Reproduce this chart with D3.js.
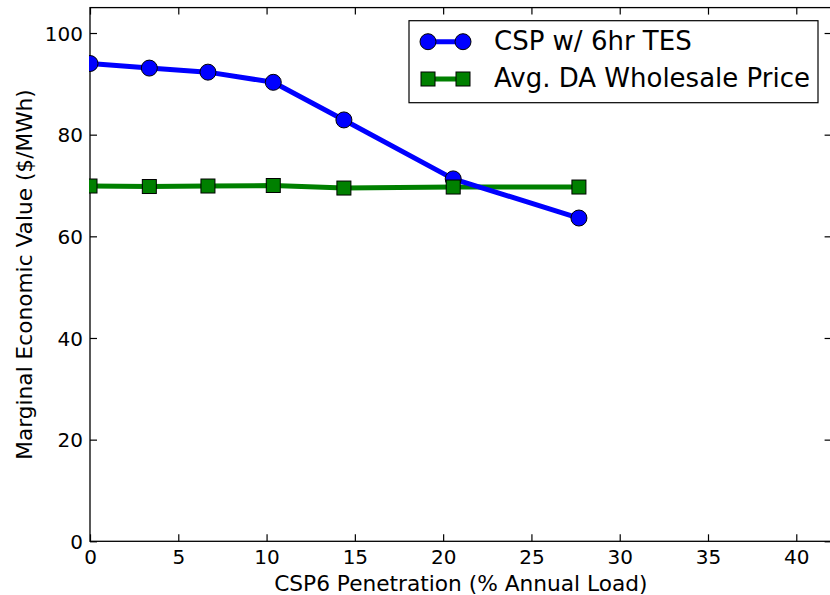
<!DOCTYPE html>
<html>
<head>
<meta charset="utf-8">
<script src="https://cdn.jsdelivr.net/npm/d3@7/dist/d3.min.js"></script>
<style>
  html, body { margin: 0; padding: 0; background: #ffffff; }
  svg { display: block; font-family: "DejaVu Sans", sans-serif; }
</style>
</head>
<body>
<svg id="chart" width="830" height="595"></svg>
<script>
// ---- data ----
const penetration = [0, 3.36, 6.68, 10.38, 14.38, 20.57, 27.69];
const cspValue    = [94.0, 93.1, 92.3, 90.3, 82.9, 71.3, 63.6];
const daPrice     = [69.9, 69.8, 69.9, 70.0, 69.5, 69.7, 69.7];
const seriesNames = ["CSP w/ 6hr TES", "Avg. DA Wholesale Price"];
const xTicks = [0, 5, 10, 15, 20, 25, 30, 35, 40];
const yTicks = [0, 20, 40, 60, 80, 100];
const xLabel = "CSP6 Penetration (% Annual Load)";
const yLabel = "Marginal Economic Value ($/MWh)";

(function () {
// ---- layout ----
const svg = d3.select("#chart");
const pL = 90, pR = 831.6, pT = 7.6, pB = 541.3;
const x = d3.scaleLinear().domain([0, 42]).range([pL, pR]);
const y = d3.scaleLinear().domain([0, 105]).range([pB, pT]);

const blue = "#0000ff", green = "#008000";

svg.append("defs").append("clipPath").attr("id", "clip")
  .append("rect").attr("x", pL - 1).attr("y", pT).attr("width", pR - pL + 1).attr("height", pB - pT);

// ---- axes (ticks inward on all sides) ----
const tickLen = 7;
const axB = svg.append("g").attr("transform", `translate(0,${pB})`)
  .call(d3.axisBottom(x).tickValues(xTicks).tickSizeInner(-tickLen).tickSizeOuter(0).tickPadding(0).tickFormat(d3.format("d")));
const axT = svg.append("g").attr("transform", `translate(0,${pT})`)
  .call(d3.axisTop(x).tickValues(xTicks).tickSizeInner(-tickLen).tickSizeOuter(0).tickFormat(""));
const axL = svg.append("g").attr("transform", `translate(${pL},0)`)
  .call(d3.axisLeft(y).tickValues(yTicks).tickSizeInner(-tickLen).tickSizeOuter(0).tickFormat(d3.format("d")));
const axR = svg.append("g").attr("transform", `translate(${pR},0)`)
  .call(d3.axisRight(y).tickValues(yTicks).tickSizeInner(-tickLen).tickSizeOuter(0).tickFormat(""));

[axB, axT, axL, axR].forEach(a => {
  a.select(".domain").remove();
  a.selectAll(".tick line").attr("stroke", "#000").attr("stroke-width", 1.2);
});
axB.selectAll(".tick text").attr("font-size", 20).attr("font-family", "DejaVu Sans")
  .attr("fill", "#000").attr("y", 0).attr("dy", null).attr("transform", "translate(0,23)");
axL.selectAll(".tick text").attr("font-size", 20).attr("font-family", "DejaVu Sans")
  .attr("fill", "#000").attr("x", -7).attr("dy", "0.36em");

// frame
svg.append("rect").attr("x", pL).attr("y", pT).attr("width", pR - pL).attr("height", pB - pT)
  .attr("fill", "none").attr("stroke", "#000").attr("stroke-width", 1.3);

// ---- series ----
const plot = svg.append("g").attr("clip-path", "url(#clip)");
const pts = (vals) => penetration.map((p, i) => [p, vals[i]]);
const line = d3.line().x(d => x(d[0])).y(d => y(d[1]));

plot.append("path").datum(pts(daPrice)).attr("d", line)
  .attr("fill", "none").attr("stroke", green).attr("stroke-width", 5).attr("stroke-linejoin", "round");
plot.append("path").datum(pts(cspValue)).attr("d", line)
  .attr("fill", "none").attr("stroke", blue).attr("stroke-width", 5).attr("stroke-linejoin", "round");

plot.selectAll("circle.csp").data(pts(cspValue)).join("circle").attr("class", "csp")
  .attr("cx", d => x(d[0])).attr("cy", d => y(d[1])).attr("r", 8)
  .attr("fill", blue).attr("stroke", "#000").attr("stroke-width", 1);
const sq = 14;
plot.selectAll("rect.da").data(pts(daPrice)).join("rect").attr("class", "da")
  .attr("x", d => x(d[0]) - sq / 2).attr("y", d => y(d[1]) - sq / 2)
  .attr("width", sq).attr("height", sq)
  .attr("fill", green).attr("stroke", "#000").attr("stroke-width", 1);

// ---- axis labels ----
svg.append("text").attr("x", (pL + pR) / 2).attr("y", 591).attr("text-anchor", "middle")
  .attr("font-size", 21.7).attr("fill", "#000").text(xLabel);
svg.append("text").attr("transform", `translate(31.5,${(pT + pB) / 2}) rotate(-90)`)
  .attr("text-anchor", "middle").attr("font-size", 21.7).attr("fill", "#000").text(yLabel);

// ---- legend ----
const lg = svg.append("g");
lg.append("rect").attr("x", 409).attr("y", 20.7).attr("width", 409).attr("height", 82)
  .attr("fill", "#fff").attr("stroke", "#000").attr("stroke-width", 1.2);
const legendRows = [
  { name: seriesNames[0], color: blue, shape: "circle", cy: 41.7, base: 50 },
  { name: seriesNames[1], color: green, shape: "square", cy: 79, base: 86.7 }
];
legendRows.forEach(r => {
  lg.append("line").attr("x1", 428).attr("x2", 463).attr("y1", r.cy).attr("y2", r.cy)
    .attr("stroke", r.color).attr("stroke-width", 5);
  [428, 463].forEach(cx => {
    if (r.shape === "circle") {
      lg.append("circle").attr("cx", cx).attr("cy", r.cy).attr("r", 8)
        .attr("fill", r.color).attr("stroke", "#000").attr("stroke-width", 1);
    } else {
      lg.append("rect").attr("x", cx - sq / 2).attr("y", r.cy - sq / 2).attr("width", sq).attr("height", sq)
        .attr("fill", r.color).attr("stroke", "#000").attr("stroke-width", 1);
    }
  });
  lg.append("text").attr("x", 494).attr("y", r.base).attr("font-size", 26).attr("fill", "#000").text(r.name);
});
})();
</script>
</body>
</html>
